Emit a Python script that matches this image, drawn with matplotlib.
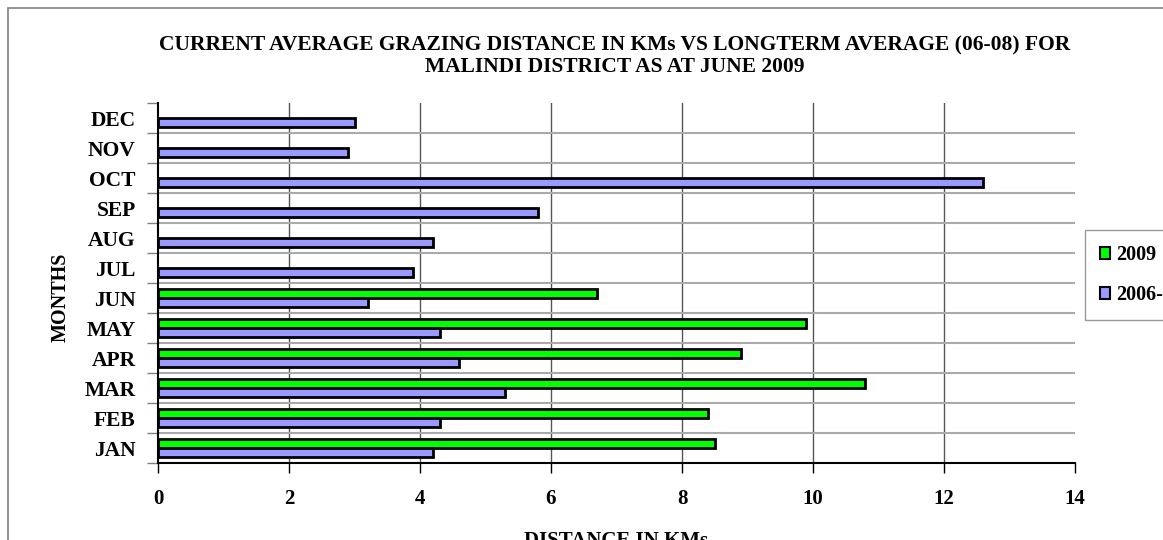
import numpy as np
import matplotlib.pyplot as plt
from matplotlib.patches import Rectangle

months = ['JAN', 'FEB', 'MAR', 'APR', 'MAY', 'JUN',
          'JUL', 'AUG', 'SEP', 'OCT', 'NOV', 'DEC']
dist_2009 = [8.5, 8.4, 10.8, 8.9, 9.9, 6.7]
dist_longterm = [4.2, 4.3, 5.3, 4.6, 4.3, 3.2, 3.9, 4.2, 5.8, 12.6, 2.9, 3.0]
series_labels = ['2009', '2006-08']

plt.rcParams['font.family'] = ['Liberation Serif', 'DejaVu Serif']
plt.rcParams['font.weight'] = 'bold'

fig = plt.figure(figsize=(11.63, 5.40), dpi=100)
fig.patches.append(Rectangle((8 / 1163, -0.1), 1.2, (540 - 8) / 540 + 0.1,
                             transform=fig.transFigure, fill=False,
                             edgecolor='#808080', linewidth=1.2))

ax = fig.add_axes([158 / 1163, 77 / 540, 917 / 1163, 360 / 540])

y = np.arange(len(months))
bar_h = 0.3
ax.barh(y[:len(dist_2009)] + bar_h / 2, dist_2009, height=bar_h,
        color='#00FF00', edgecolor='black', linewidth=2, label=series_labels[0], zorder=3)
ax.barh(y - bar_h / 2, dist_longterm, height=bar_h,
        color='#9999FF', edgecolor='black', linewidth=2, label=series_labels[1], zorder=3)

ax.set_xlim(0, 14)
ax.set_ylim(-0.5, len(months) - 0.5)
ax.set_xticks(np.arange(0, 15, 2))
ax.set_xticklabels([str(v) for v in range(0, 15, 2)], fontsize=15, fontweight='bold')
ax.tick_params(axis='x', direction='out', length=7, width=1, pad=12)

ax.set_yticks(np.arange(len(months) + 1) - 0.5)
ax.set_yticklabels([])
ax.set_yticks(y, minor=True)
ax.set_yticklabels(months, minor=True, fontsize=15.5, fontweight='bold')
ax.tick_params(axis='y', which='major', direction='out', length=8, width=1, color='#808080')
ax.tick_params(axis='y', which='minor', length=0, pad=16)

for v in range(2, 14, 2):
    ax.axvline(v, color='#555555', linewidth=1, zorder=1)
for b in np.arange(len(months) - 1) + 0.5:
    ax.axhline(b, color='#aaaaaa', linewidth=1.5, zorder=1)

for s in ['top', 'right']:
    ax.spines[s].set_visible(False)
ax.spines['left'].set_linewidth(1.5)
ax.spines['bottom'].set_linewidth(1.5)

ax.set_xlabel('DISTANCE IN KMs', fontsize=15, fontweight='bold')
ax.xaxis.set_label_coords(0.5, -(531 - 463) / 360)
ax.set_ylabel('MONTHS', fontsize=14.5, fontweight='bold')
ax.yaxis.set_label_coords(-0.095, 0.46)

fig.text(615 / 1163, 1 - 56 / 540,
         'CURRENT AVERAGE GRAZING DISTANCE IN KMs VS LONGTERM AVERAGE (06-08) FOR\n'
         'MALINDI DISTRICT AS AT JUNE 2009',
         ha='center', va='center', fontsize=15.5, fontweight='bold', linespacing=1.1)

handles, labels = ax.get_legend_handles_labels()
leg = fig.legend(handles, labels, loc='upper left',
                 bbox_to_anchor=(1085 / 1163, 1 - 230 / 540),
                 prop={'weight': 'bold', 'size': 14.5},
                 frameon=True, fancybox=False, edgecolor='#808080',
                 handlelength=0.5, handleheight=0.5, handletextpad=0.3,
                 labelspacing=1.0, borderpad=0.75, borderaxespad=0)
leg.get_frame().set_linewidth(1)
for h in leg.legend_handles:
    h.set_linewidth(1.5)

fig.savefig('out.png', dpi=100)
